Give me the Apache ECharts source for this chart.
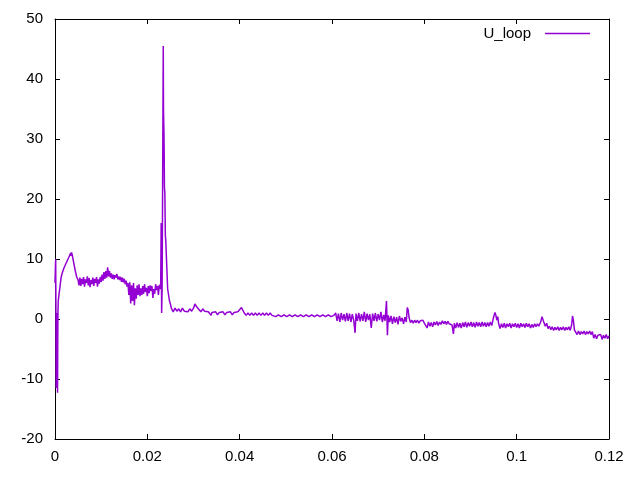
<!DOCTYPE html>
<html>
<head>
<meta charset="utf-8">
<script src="https://cdn.jsdelivr.net/npm/echarts@6/dist/echarts.min.js"></script>
<style>html,body{margin:0;padding:0;background:#fff;}#c{width:640px;height:480px;}</style>
</head>
<body>
<div id="c"></div>
<script>
const seriesName = 'U_loop';
const xTicks = [0, 0.02, 0.04, 0.06, 0.08, 0.1, 0.12];
const yTicks = [-20, -10, 0, 10, 20, 30, 40, 50];

const startSeg = [
 [0, 6], [0.0001, 9], [0.00015, 10], [0.0002, 2], [0.00025, -11.5], [0.0003, -4], [0.00035, 0.5], [0.0004, -2], [0.00045, 1], [0.0005, -6], [0.00055, -12.3], [0.0006, -3], [0.00065, 1.5], [0.0007, 3], [0.0009, 4.3], [0.0011, 5.5], [0.0013, 6.8], [0.0015, 7.5], [0.0018, 8.2], [0.0021, 8.8], [0.0024, 9.3], [0.0027, 9.8], [0.0030, 10.3], [0.0032, 10.6], [0.0034, 11], [0.0035, 10.5], [0.0036, 11.1], [0.0038, 10.4], [0.0041, 9.2], [0.0044, 8], [0.0047, 7], [0.0050, 6.5]
];
const plateauSeg = [
 [0.0052, 5.6], [0.0054, 6.9], [0.0056, 5.5], [0.0058, 6.7], [0.0060, 5.8], [0.0062, 7.0], [0.0064, 5.4], [0.0066, 6.6], [0.0068, 6.0], [0.0070, 7.1], [0.0072, 5.6], [0.0074, 6.8], [0.0076, 5.3], [0.0078, 6.5], [0.0080, 5.8], [0.0082, 6.9], [0.0084, 5.5], [0.0086, 6.7], [0.0088, 6.0], [0.0090, 7.0], [0.0092, 5.4], [0.0094, 6.6], [0.0096, 5.9], [0.0098, 7.0], [0.0100, 6.2], [0.0102, 7.4], [0.0104, 6.4], [0.0106, 7.8], [0.0108, 6.7], [0.0110, 8.0], [0.0112, 6.9], [0.0114, 8.6], [0.0116, 7.1], [0.0118, 8.0], [0.0120, 6.9], [0.0122, 7.6], [0.0124, 6.7], [0.0126, 7.4], [0.0128, 6.6], [0.0130, 7.3], [0.0132, 6.9], [0.0134, 7.5], [0.0136, 6.6], [0.0138, 7.1], [0.0140, 6.5], [0.0142, 7.0], [0.0144, 6.2], [0.0146, 6.9], [0.0148, 6.1], [0.0150, 6.7], [0.0152, 5.8], [0.0154, 6.4], [0.0156, 5.4], [0.0158, 6.0]
];
const dipSeg = [
 [0.0160, 4.0], [0.0162, 6.1], [0.0164, 2.6], [0.0166, 5.6], [0.0168, 3.0], [0.0170, 6.0], [0.0172, 2.3], [0.0174, 5.1], [0.0176, 3.4], [0.0178, 5.6], [0.0180, 4.0], [0.0182, 5.8], [0.0184, 3.8], [0.0186, 5.1], [0.0188, 4.0], [0.0190, 5.5], [0.0192, 4.2], [0.0194, 5.8], [0.0196, 4.5], [0.0198, 5.2], [0.0200, 3.8], [0.0202, 5.5], [0.0204, 4.3], [0.0206, 5.6], [0.0208, 4.7], [0.0210, 5.5], [0.0212, 3.5], [0.0214, 5.0], [0.0216, 4.2], [0.0218, 5.8], [0.0220, 4.8], [0.0222, 5.5], [0.0224, 4.0], [0.0226, 5.7], [0.0228, 5.0]
];
const spikeSeg = [
 [0.0229, 6], [0.0230, 16], [0.02305, 8], [0.0231, 1], [0.0232, 5], [0.0233, 20], [0.02345, 45.5], [0.0235, 35], [0.0236, 31], [0.02365, 28], [0.0237, 22], [0.0238, 21], [0.0239, 14], [0.0240, 13], [0.0242, 9], [0.0244, 5], [0.0246, 4], [0.0248, 3], [0.0250, 2.5], [0.0252, 1.8]
];
const decaySeg = [
 [0.0256, 1.2], [0.0260, 1.8], [0.0264, 1.3], [0.0268, 1.7], [0.0272, 1.2], [0.0276, 1.8], [0.0280, 1.3], [0.0284, 1.6], [0.0288, 1.2], [0.0292, 1.7], [0.0296, 1.3], [0.0300, 1.8],
 [0.0303, 2.5], [0.0305, 2.2], [0.0308, 1.9], [0.0312, 1.6], [0.0316, 1.2], [0.0320, 1.7], [0.0324, 1.3], [0.0328, 1.6], [0.0332, 1.2], [0.0336, 1.5], [0.0338, 0.6], [0.0340, 1.1],
 [0.0344, 0.8], [0.0348, 1.2], [0.0352, 0.7], [0.0356, 1.1], [0.0360, 0.8], [0.0364, 1.2], [0.0368, 0.7], [0.0372, 1.1], [0.0376, 0.8], [0.0380, 1.2], [0.0384, 0.7], [0.0388, 1.1], [0.0392, 0.8], [0.0396, 1.2], [0.0400, 0.9],
 [0.0404, 1.9], [0.0406, 1.6], [0.0410, 1.0], [0.0414, 0.6], [0.0418, 1.0], [0.0422, 0.6], [0.0426, 1.0], [0.0430, 0.6], [0.0434, 1.0], [0.0438, 0.6], [0.0442, 1.0], [0.0446, 0.6], [0.0450, 1.0], [0.0454, 0.6], [0.0458, 1.0], [0.0462, 0.6], [0.0466, 1.0], [0.0470, 0.6], [0.0474, 0.9],
 [0.0478, 0.4], [0.0484, 0.7], [0.0490, 0.4], [0.0496, 0.7], [0.0502, 0.4], [0.0508, 0.7], [0.0514, 0.4], [0.0520, 0.7], [0.0526, 0.4], [0.0532, 0.7], [0.0538, 0.4], [0.0544, 0.7], [0.0550, 0.4], [0.0556, 0.7], [0.0562, 0.4], [0.0568, 0.7], [0.0574, 0.4], [0.0580, 0.7], [0.0586, 0.4], [0.0592, 0.7], [0.0598, 0.4], [0.0604, 0.6]
];
const noisySeg = [
 [0.0608, 1.0], [0.0611, -0.3], [0.0614, 0.9], [0.0617, -0.5], [0.0620, 1.0], [0.0623, -0.2], [0.0626, 0.8], [0.0629, -0.4], [0.0632, 1.0], [0.0635, -0.3], [0.0638, 0.9], [0.0641, -0.5], [0.0644, 0.8], [0.0647, -0.2], [0.0650, -2.3], [0.0652, 0.9], [0.0655, -0.3], [0.0658, 1.0], [0.0661, -0.4], [0.0664, 0.8], [0.0667, -0.3], [0.0670, 1.2], [0.0673, -0.5], [0.0676, 0.9], [0.0679, -0.2], [0.0682, 0.8], [0.0685, -1.5], [0.0688, 0.9], [0.0691, -0.3], [0.0694, 1.0], [0.0697, -0.4], [0.0700, 0.8], [0.0703, -0.2], [0.0706, 1.2], [0.0709, -0.5], [0.0712, 0.7], [0.0715, -0.3], [0.0718, 3.0], [0.0720, -2.7], [0.0722, 0.6], [0.0725, -0.5], [0.0728, 0.5], [0.0731, -0.8], [0.0734, 0.4], [0.0737, -0.6], [0.0740, 0.3], [0.0743, -0.9], [0.0746, 0.5], [0.0749, -0.4], [0.0752, 0.2], [0.0755, -0.8], [0.0758, 0.3], [0.0761, -0.5],
 [0.0763, 1.9], [0.0765, 1.5], [0.0767, 0.2], [0.0770, -0.6], [0.0773, -0.2], [0.0776, -0.7], [0.0779, -0.2], [0.0782, -0.6], [0.0785, -0.2], [0.0788, -0.7], [0.0791, -0.3], [0.0794, -0.6], [0.0797, -0.2], [0.0800, -0.7]
];
const lateSeg = [
 [0.0803, -0.4], [0.0806, -1.5], [0.0809, -0.5], [0.0812, -1.2], [0.0815, -0.6], [0.0818, -1.3], [0.0821, -0.5], [0.0824, -1.0], [0.0827, -0.4], [0.0830, -1.1], [0.0833, -0.5], [0.0836, -0.9], [0.0839, -0.3], [0.0842, -0.8], [0.0845, -0.4], [0.0848, -0.9], [0.0851, -0.4], [0.0854, -0.8], [0.0857, -0.5], [0.0860, -1.0], [0.0863, -2.5], [0.0865, -0.7], [0.0868, -1.5], [0.0871, -0.6], [0.0874, -1.4], [0.0877, -0.7], [0.0880, -1.5], [0.0883, -0.6], [0.0886, -1.3], [0.0889, -0.5], [0.0892, -1.4], [0.0895, -0.6], [0.0898, -1.2], [0.0901, -0.5], [0.0904, -1.3], [0.0907, -0.6], [0.0910, -1.4], [0.0913, -0.5], [0.0916, -1.2], [0.0919, -0.6], [0.0922, -1.3], [0.0925, -0.5], [0.0928, -1.2], [0.0931, -0.6],
 [0.0934, -1.3], [0.0937, -0.6], [0.0940, -1.2], [0.0943, -0.5], [0.0946, -1.1], [0.0950, 0.3], [0.0953, 1.1], [0.0955, 0.6], [0.0957, -0.2], [0.0959, 0.4], [0.0961, -0.8], [0.0964, -1.6], [0.0967, -0.8], [0.0970, -1.4], [0.0973, -0.7], [0.0976, -1.5], [0.0979, -0.8], [0.0982, -1.3], [0.0985, -0.7], [0.0988, -1.5], [0.0991, -0.8], [0.0994, -1.3], [0.0997, -0.7], [0.1000, -1.4], [0.1003, -0.8], [0.1006, -1.5], [0.1009, -0.7], [0.1012, -1.3], [0.1015, -0.8], [0.1018, -1.4], [0.1021, -0.7], [0.1024, -1.3], [0.1027, -0.8], [0.1030, -1.5], [0.1033, -0.9], [0.1036, -1.4], [0.1039, -0.8], [0.1042, -1.3], [0.1045, -0.8], [0.1048, -1.2]
];
const endSeg = [
 [0.1052, -0.5], [0.1055, 0.4], [0.1057, 0.1], [0.1059, -0.6], [0.1062, -1.2], [0.1065, -0.7], [0.1068, -1.6], [0.1071, -1.2], [0.1074, -1.8], [0.1077, -1.3], [0.1080, -1.9], [0.1083, -1.4], [0.1086, -1.8], [0.1089, -1.3], [0.1092, -1.9], [0.1095, -1.4], [0.1098, -1.8], [0.1101, -1.3], [0.1104, -1.9], [0.1107, -1.4], [0.1110, -1.8], [0.1113, -1.3], [0.1116, -1.9],
 [0.1119, -1.0], [0.1121, 0.5], [0.1123, -0.3], [0.1125, -1.8], [0.1128, -2.0], [0.1131, -2.6], [0.1134, -2.0], [0.1137, -2.6], [0.1140, -2.1], [0.1143, -2.5], [0.1146, -2.0], [0.1149, -2.6], [0.1152, -2.1], [0.1155, -2.5], [0.1158, -2.0], [0.1161, -2.6], [0.1164, -2.1],
 [0.1167, -3.2], [0.1170, -2.6], [0.1173, -3.3], [0.1176, -2.7], [0.1179, -3.0], [0.1182, -2.6], [0.1185, -3.4], [0.1188, -2.7], [0.1191, -3.2], [0.1194, -2.6], [0.1197, -3.3], [0.1200, -2.8]
];

const uLoop = [].concat(startSeg, plateauSeg, dipSeg, spikeSeg, decaySeg, noisySeg, lateSeg, endSeg);

const FONT = 'Liberation Sans, Arial, sans-serif';
const PURPLE = '#9400d3';
const chart = echarts.init(document.getElementById('c'), null, {renderer: 'canvas'});
const fmt = v => String(+(+v).toFixed(4));
const xMin = xTicks[0], xMax = xTicks[xTicks.length - 1], xInt = xTicks[1] - xTicks[0];
const yMin = yTicks[0], yMax = yTicks[yTicks.length - 1], yInt = yTicks[1] - yTicks[0];
const axLine = {show: true, onZero: false, lineStyle: {color: '#000', width: 1}};
const tick = {show: true, inside: true, length: 5, lineStyle: {color: '#000', width: 1}};
chart.setOption({
  animation: false,
  backgroundColor: '#fff',
  grid: {left: 55, right: 31, top: 19, bottom: 41, show: false},
  legend: {
    show: true, right: 45, top: 21, align: 'right', icon: 'rect', itemWidth: 45, itemHeight: 1.6,
    itemStyle: {color: PURPLE},
    textStyle: {fontFamily: FONT, fontSize: 15, color: '#000', padding: [0, 9, 0, 0]},
    data: [seriesName]
  },
  xAxis: [
    {type: 'value', min: xMin, max: xMax, interval: xInt, position: 'bottom',
     axisLine: axLine, axisTick: tick, splitLine: {show: false},
     axisLabel: {formatter: fmt, fontFamily: FONT, fontSize: 15, color: '#000', margin: 10}},
    {type: 'value', min: xMin, max: xMax, interval: xInt, position: 'top',
     axisLine: axLine, axisTick: tick, splitLine: {show: false}, axisLabel: {show: false}}
  ],
  yAxis: [
    {type: 'value', min: yMin, max: yMax, interval: yInt, position: 'left',
     axisLine: axLine, axisTick: tick, splitLine: {show: false},
     axisLabel: {fontFamily: FONT, fontSize: 15, color: '#000', margin: 12}},
    {type: 'value', min: yMin, max: yMax, interval: yInt, position: 'right',
     axisLine: axLine, axisTick: tick, splitLine: {show: false}, axisLabel: {show: false}}
  ],
  series: [{
    name: seriesName, type: 'line', data: uLoop, showSymbol: false, symbol: 'none',
    sampling: null, xAxisIndex: 0, yAxisIndex: 0,
    lineStyle: {color: PURPLE, width: 1.5}, itemStyle: {color: PURPLE}
  }]
});
</script>
</body>
</html>
